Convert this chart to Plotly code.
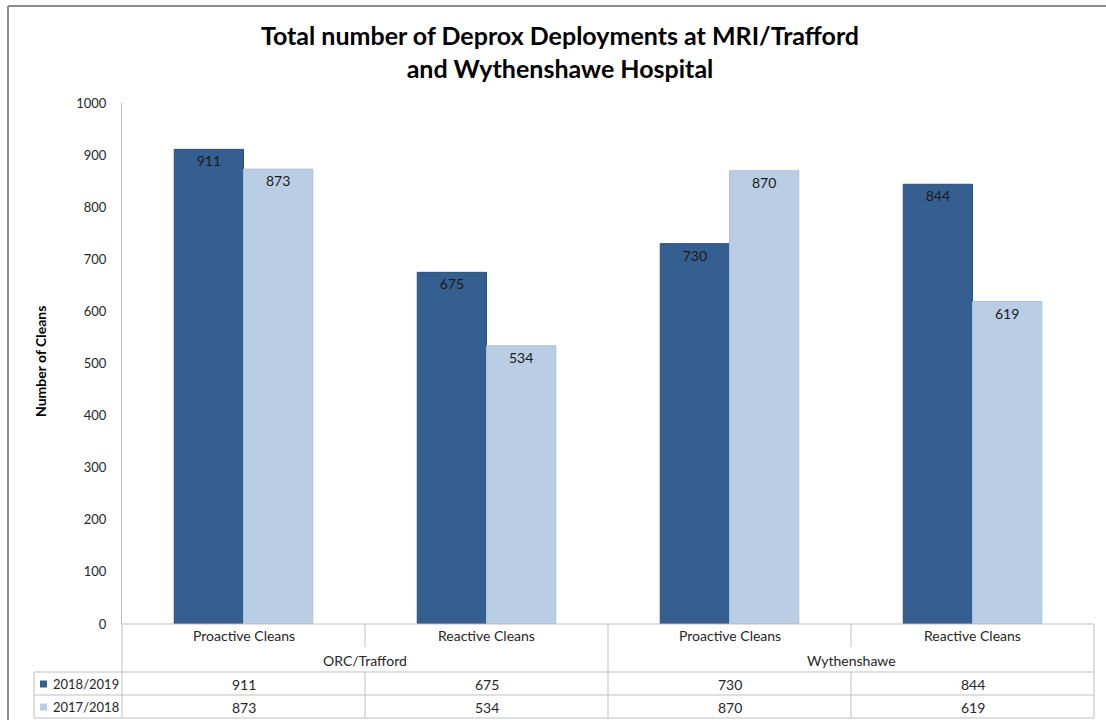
import plotly.graph_objects as go

groups = ["ORC/Trafford", "Wythenshawe"]
categories = ["Proactive Cleans", "Reactive Cleans", "Proactive Cleans", "Reactive Cleans"]
series_names = ["2018/2019", "2017/2018"]
values_2018_2019 = [911, 675, 730, 844]
values_2017_2018 = [873, 534, 870, 619]
series_values = [values_2018_2019, values_2017_2018]
colors = ["#365F91", "#B9CDE5"]
line_colors = ["#2C4F7A", "#A9BFDB"]
y_ticks = list(range(0, 1001, 100))

W, H = 1106, 720
ML, MR, MT, MB = 122, 12, 103, 96
PW, PH = W - ML - MR, H - MT - MB
FONT = "Lato"
GRID = "#BFBFBF"
TXT = "#262626"


def px(x):
    return (x - ML) / PW


def py(y):
    return (H - MB - y) / PH


n = len(categories)
xs = list(range(n))
fig = go.Figure()
for name, vals, c, lc in zip(series_names, series_values, colors, line_colors):
    fig.add_trace(go.Bar(
        x=xs, y=vals, name=name, marker=dict(color=c, line=dict(color=lc, width=1)),
        text=[str(v) for v in vals], textposition="inside", insidetextanchor="end",
        textangle=0, textfont=dict(family=FONT, size=14, color="#1A1A1A"),
        cliponaxis=False,
    ))

shapes = []
annotations = []

cw = PW / n
table_top = H - MB
row_cat = table_top + 23
row_grp = table_top + 48
row1 = row_grp + 23
row2 = row1 + 23
left_tab = 34


def hline(y, x0, x1):
    shapes.append(dict(type="line", xref="paper", yref="paper", x0=px(x0), x1=px(x1),
                       y0=py(y), y1=py(y), line=dict(color=GRID, width=1)))


def vline(x, y0, y1):
    shapes.append(dict(type="line", xref="paper", yref="paper", x0=px(x), x1=px(x),
                       y0=py(y0), y1=py(y1), line=dict(color=GRID, width=1)))


hline(table_top, ML, ML + PW)
hline(row_grp, left_tab, ML + PW)
hline(row1, left_tab, ML + PW)
hline(row2, left_tab, ML + PW)
vline(left_tab, row_grp, row2)
per_group = n // len(groups)
for i in range(n + 1):
    x = ML + i * cw
    if i % per_group == 0:
        vline(x, table_top, row2)
    else:
        vline(x, table_top, row_cat)
        vline(x, row_grp, row2)


def text(x, y, s, size=14, anchor="center", color=TXT):
    annotations.append(dict(xref="paper", yref="paper", x=px(x), y=py(y), text=s,
                            showarrow=False, xanchor=anchor, yanchor="middle",
                            font=dict(family=FONT, size=size, color=color)))


for i, cat in enumerate(categories):
    cx = ML + (i + 0.5) * cw
    text(cx, table_top + 11, cat)
    text(cx, row_grp + 12, str(values_2018_2019[i]))
    text(cx, row1 + 12, str(values_2017_2018[i]))
for g, gname in enumerate(groups):
    cx = ML + (g + 0.5) * per_group * cw
    text(cx, table_top + 36, gname)

for r, (name, c) in enumerate(zip(series_names, colors)):
    yc = row_grp + 12 + r * 23
    shapes.append(dict(type="rect", xref="paper", yref="paper", x0=px(40), x1=px(47),
                       y0=py(yc + 3.5), y1=py(yc - 3.5), fillcolor=c, line=dict(width=0)))
    text(51, yc, name, size=13, anchor="left")

annotations.append(dict(xref="paper", yref="paper", x=px(40), y=py(362), text="<b>Number of Cleans</b>",
                        showarrow=False, textangle=-90, xanchor="center", yanchor="middle",
                        font=dict(family=FONT, size=14, color="#000000")))

shapes.append(dict(type="line", xref="paper", yref="paper", x0=px(8), x1=px(W), y0=py(6), y1=py(6),
                   line=dict(color="#8C8C8C", width=2)))
shapes.append(dict(type="line", xref="paper", yref="paper", x0=px(8), x1=px(8), y0=py(6), y1=py(H),
                   line=dict(color="#8C8C8C", width=2)))

fig.update_layout(
    width=W, height=H, margin=dict(l=ML, r=MR, t=MT, b=MB),
    paper_bgcolor="white", plot_bgcolor="white",
    barmode="group", bargap=0.43, bargroupgap=0,
    showlegend=False,
    title=dict(text="<b>Total number of Deprox Deployments at MRI/Trafford<br>and Wythenshawe Hospital</b>",
               xref="container", x=560 / W, xanchor="center", yref="container", y=1 - 45 / H, yanchor="middle",
               font=dict(family=FONT, size=25, color="#000000")),
    xaxis=dict(range=[-0.5, n - 0.5], showticklabels=False, showgrid=False, zeroline=False,
               showline=False, fixedrange=True),
    yaxis=dict(range=[0, 1000], tickvals=y_ticks, showgrid=False, zeroline=False,
               showline=True, linecolor=GRID, linewidth=1, ticks="", ticklabelstandoff=12,
               tickfont=dict(family=FONT, size=13, color=TXT)),
    shapes=shapes, annotations=annotations,
)

fig.write_html("out.html")
